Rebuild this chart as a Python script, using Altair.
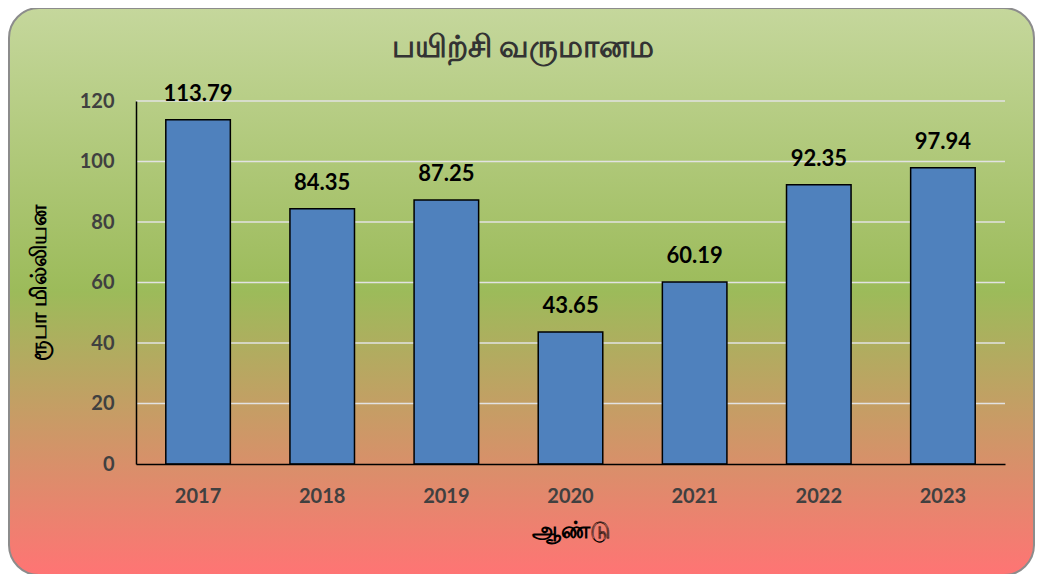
import altair as alt
import pandas as pd

years = ["2017", "2018", "2019", "2020", "2021", "2022", "2023"]
income = [113.79, 84.35, 87.25, 43.65, 60.19, 92.35, 97.94]
y_ticks = [0, 20, 40, 60, 80, 100, 120]
grid_vals = [20, 40, 60, 80, 100, 120]
title_text = "பயிற்சி வருமானம"
x_title = "ஆண்டு"
y_title = "ரூபா மில்லியன"

W, H = 869, 363
FONT = "Lato"

df = pd.DataFrame({"year": years, "income": income})
grid_df = pd.DataFrame({"v": grid_vals})
one = pd.DataFrame({"a": [0]})

gradient = alt.LinearGradient(
    gradient="linear", x1=0, y1=0, x2=0, y2=1,
    stops=[
        alt.GradientStop(offset=0, color="#c5d79c"),
        alt.GradientStop(offset=0.5, color="#9cbb5a"),
        alt.GradientStop(offset=1, color="#ff7474"),
    ],
)

bg = alt.Chart(one).mark_rect(
    fill=gradient, stroke="#8c8c8c", strokeWidth=2, cornerRadius=30
).encode(
    x=alt.value(-127), x2=alt.value(898), y=alt.value(-93), y2=alt.value(474)
)

title = alt.Chart(one).mark_text(
    font=FONT, fontSize=31, fontWeight="bold", color="#333333", baseline="middle", align="center"
).encode(x=alt.value(387), y=alt.value(-53), text=alt.value(title_text))

y_scale = alt.Scale(domain=[0, 120], nice=False)

grid = alt.Chart(grid_df).mark_rule(color="#e2e2e2", strokeWidth=1.5).encode(
    y=alt.Y("v:Q", scale=y_scale), x=alt.value(0), x2=alt.value(W)
)

x_enc = alt.X(
    "year:N", sort=years,
    scale=alt.Scale(paddingInner=0.48, paddingOuter=0.24),
    axis=alt.Axis(
        title=x_title, labelAngle=0, ticks=False, domainColor="black", domainWidth=1.5,
        labelFont=FONT, labelFontSize=20, labelFontWeight="bold", labelColor="#404040",
        labelPadding=22, titleFont=FONT, titleFontSize=23, titleFontWeight="bold",
        titleColor="black", titleY=66, titleBaseline="middle", zindex=1,
    ),
)
y_enc = alt.Y(
    "income:Q", scale=y_scale,
    axis=alt.Axis(
        title=y_title, values=y_ticks, grid=False, ticks=False, domainColor="black",
        domainWidth=1.5, labelFont=FONT, labelFontSize=20, labelFontWeight="bold",
        labelColor="#404040", labelPadding=22, titleFont=FONT, titleFontSize=22,
        titleFontWeight="bold", titleColor="black", titleX=-98, titleBaseline="middle",
        zindex=1,
    ),
)

bars = alt.Chart(df).mark_bar(fill="#4f81bd", stroke="black", strokeWidth=1.5).encode(
    x=x_enc, y=y_enc
)
labels = alt.Chart(df).mark_text(
    font=FONT, fontSize=22, fontWeight="bold", color="black", baseline="bottom", dy=-14
).encode(x=alt.X("year:N", sort=years), y=alt.Y("income:Q", scale=y_scale), text=alt.Text("income:Q", format=".2f"))

chart = alt.layer(bg, grid, bars, labels, title).properties(
    width=W, height=H,
    autosize=alt.AutoSizeParams(type="none"),
    padding={"left": 128, "top": 93, "right": 30, "bottom": 110},
).configure_view(stroke=None)

chart.save("out.html", embed_options={"renderer": "svg", "actions": False})
